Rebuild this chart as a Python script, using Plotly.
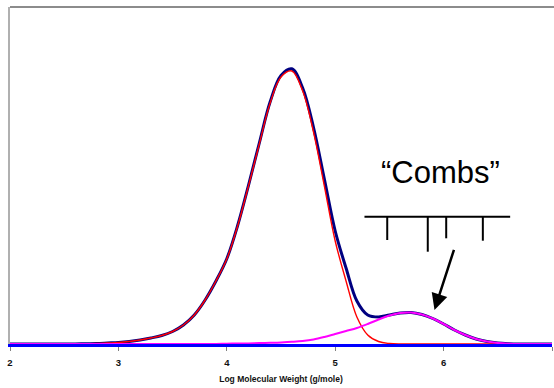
import plotly.graph_objects as go

# Log molecular weight grid (g/mole, log10)
log_mw = [2.0, 2.1, 2.2, 2.3, 2.4, 2.5, 2.6, 2.7, 2.8, 2.9,
          3.0, 3.1, 3.2, 3.3, 3.4, 3.5, 3.6, 3.7, 3.8, 3.9,
          4.0, 4.1, 4.2, 4.3, 4.4, 4.5, 4.6, 4.7, 4.8, 4.9,
          5.0, 5.1, 5.2, 5.3, 5.4, 5.5, 5.6, 5.7, 5.8, 5.9,
          6.0, 6.1, 6.2, 6.3, 6.4, 6.5, 6.6, 6.7, 6.8, 6.9, 7.0]

# Linear (backbone) component - red
linear = [0, 0, 0, 0, 0, 0, 0, 0.3, 0.5, 1,
          1.5, 2.5, 4, 6, 8.5, 12.5, 19, 29, 44, 63,
          85, 118, 158, 200, 241, 267, 273, 253, 212, 158,
          103, 63, 27, 9, 2.5, 0.5, 0, 0, 0, 0,
          0, 0, 0, 0, 0, 0, 0, 0, 0, 0, 0]

# "Combs" component - magenta
combs = [0, 0, 0, 0, 0, 0, 0, 0, 0, 0,
         0, 0, 0, 0, 0, 0, 0, 0, 0, 0,
         0.3, 0.45, 0.6, 0.9, 1.2, 1.6, 2.2, 3, 4.5, 7,
         10, 13, 16, 20, 24.5, 28.5, 31, 31.5, 29.5, 25.5,
         20, 14, 9, 5, 2.5, 1, 0.3, 0, 0, 0, 0]

# Total distribution - navy
total = [0, 0, 0, 0, 0, 0, 0, 0.3, 0.5, 1,
         1.5, 2.5, 4, 6, 8.5, 12.5, 19, 29, 44, 63,
         85.3, 118.5, 158.6, 201, 242.2, 268.6, 275.2, 256, 216.5, 165,
         113, 76, 43, 29, 27, 29, 31, 31.5, 29.5, 25.5,
         20, 14, 9, 5, 2.5, 1, 0.3, 0, 0, 0, 0]

x_ticks = [2, 3, 4, 5, 6, 7]
x_title = "Log Molecular Weight (g/mole)"
label_text = "\u201cCombs\u201d"

fig = go.Figure()
fig.add_trace(go.Scatter(x=log_mw, y=total, mode="lines", name="Total",
                         line=dict(color="#000080", width=3, shape="spline")))
fig.add_trace(go.Scatter(x=log_mw, y=linear, mode="lines", name="Linear",
                         line=dict(color="#FF0000", width=1.4, shape="spline")))
fig.add_trace(go.Scatter(x=log_mw, y=combs, mode="lines", name="Combs",
                         line=dict(color="#FF00FF", width=2, shape="spline")))

font_family = "Arial, Liberation Sans, sans-serif"

fig.update_layout(
    width=554, height=388,
    margin=dict(l=10, r=2, t=7, b=44),
    paper_bgcolor="white", plot_bgcolor="white",
    showlegend=False,
    font=dict(family=font_family),
    xaxis=dict(range=[2, 7], tickvals=x_ticks, ticktext=[str(t) for t in x_ticks],
               showgrid=False, zeroline=False,
               showline=True, linecolor="#0000FF", linewidth=3,
               ticks="outside", ticklen=4, tickwidth=1, tickcolor="#808080",
               ticklabelstandoff=4,
               tickfont=dict(size=9.5, color="#111111", weight="bold", family=font_family),
               title=dict(text=x_title, standoff=9,
                          font=dict(size=8.5, color="#111111", weight="bold", family=font_family))),
    yaxis=dict(range=[0, 337], showgrid=False, zeroline=False,
               showticklabels=False, ticks="",
               showline=True, linecolor="#B0B0B0", linewidth=2),
)

# top frame line
fig.add_shape(type="line", xref="paper", yref="paper", x0=0, x1=1.01, y0=1, y1=1,
              line=dict(color="#8C8C8C", width=2))

# comb schematic
fig.add_shape(type="line", xref="x", yref="y", x0=5.27, x1=6.614, y0=127.3, y1=127.3,
              line=dict(color="black", width=2))
teeth = [(5.48, 104), (5.854, 92.3), (6.024, 105.7), (6.362, 103.3)]
for tx, ty in teeth:
    fig.add_shape(type="line", xref="x", yref="y", x0=tx, x1=tx, y0=127.3, y1=ty,
                  line=dict(color="black", width=2))

fig.add_annotation(x=5.972, y=172, xref="x", yref="y", text=label_text, showarrow=False,
                   font=dict(size=31, color="black", family=font_family),
                   xanchor="center", yanchor="middle")

fig.add_annotation(x=5.916, y=34, xref="x", yref="y", ax=6.10, ay=95.7,
                   axref="x", ayref="y", text="", showarrow=True,
                   arrowhead=2, arrowsize=1.3, arrowwidth=2.5, arrowcolor="black")

fig.write_html("out.html")
